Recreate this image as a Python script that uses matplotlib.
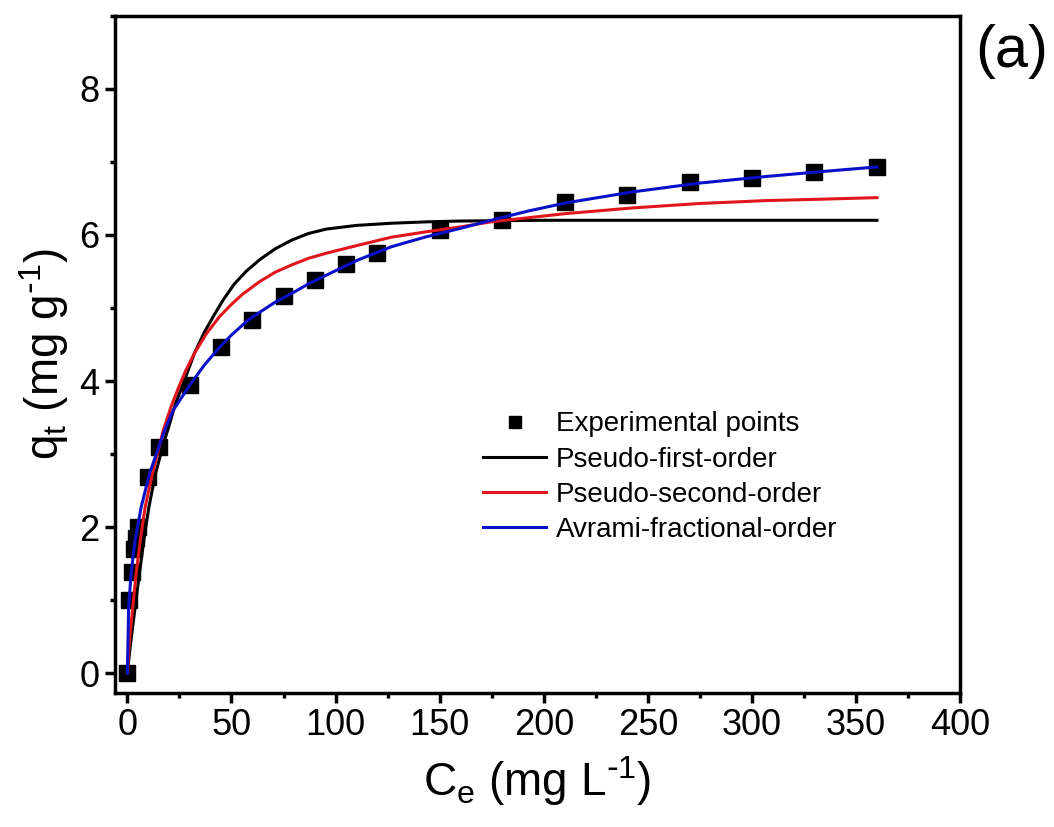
import numpy as np
import matplotlib
matplotlib.use("Agg")
import matplotlib.pyplot as plt
from matplotlib.ticker import MultipleLocator

plt.rcParams['font.family'] = ['Liberation Sans', 'DejaVu Sans']
plt.rcParams['mathtext.default'] = 'regular'

# experimental points
t_exp = [0, 1, 2, 3, 4, 5, 10, 15, 30, 45, 60, 75, 90, 105, 120, 150, 180,
         210, 240, 270, 300, 330, 360]
q_exp = [0, 1.0, 1.38, 1.70, 1.85, 2.0, 2.68, 3.1, 3.95, 4.47, 4.83, 5.16,
         5.38, 5.6, 5.75, 6.07, 6.2, 6.45, 6.55, 6.73, 6.78, 6.86, 6.93]

# model curves
t_pfo = [0, 1.5, 3.7, 5.8, 7.9, 10.3, 13.5, 17.8, 19.4, 23, 27.4, 32.2, 37,
         41.8, 46, 51.4, 57, 63.5, 71, 79, 87, 95.6, 110, 127, 145, 160,
         200, 250, 300, 360]
q_pfo = [0, 0.4, 0.9, 1.37, 1.82, 2.27, 2.73, 3.19, 3.33, 3.68, 4.01, 4.38,
         4.67, 4.91, 5.11, 5.33, 5.50, 5.66, 5.81, 5.93, 6.02, 6.08, 6.13,
         6.16, 6.18, 6.19, 6.2, 6.2, 6.2, 6.2]

t_pso = [0, 1, 2.6, 4.2, 6.2, 8.5, 12, 17.3, 21, 24.7, 28, 32.2, 38, 44.2,
         50, 55.4, 63.5, 71, 79, 87, 95.6, 111, 127, 143, 160, 175, 210, 243,
         275, 307, 335, 360]
q_pso = [0, 0.45, 0.9, 1.37, 1.82, 2.27, 2.73, 3.33, 3.65, 3.92, 4.14, 4.38,
         4.65, 4.88, 5.05, 5.19, 5.36, 5.49, 5.59, 5.68, 5.75, 5.86, 5.97,
         6.04, 6.11, 6.18, 6.29, 6.37, 6.43, 6.47, 6.49, 6.51]

t_afo = [0, 0.6, 1.8, 3.7, 6.6, 10.6, 16.2, 17.8, 22, 30.1, 37, 44.2, 50,
         57.8, 63.5, 71, 79, 87, 95.6, 111, 127, 143, 160, 176, 193, 211,
         243, 275, 307, 339, 360]
q_afo = [0, 0.9, 1.37, 1.82, 2.27, 2.73, 3.19, 3.32, 3.6, 3.95, 4.22, 4.46,
         4.63, 4.83, 4.94, 5.08, 5.2, 5.33, 5.45, 5.66, 5.84, 5.97, 6.09,
         6.21, 6.33, 6.44, 6.59, 6.71, 6.8, 6.88, 6.93]

fig = plt.figure(figsize=(10.54, 8.27), dpi=100)
ax = fig.add_axes([0.109, 0.162, 0.802, 0.819])

ax.plot(t_exp, q_exp, 's', color='black', markersize=11.5, zorder=2,
        label='Experimental points')
ax.plot(t_pfo, q_pfo, '-', color='black', lw=2.2, zorder=3,
        label='Pseudo-first-order')
ax.plot(t_pso, q_pso, '-', color='#e0161c', lw=2.2, zorder=3,
        label='Pseudo-second-order')
ax.plot(t_afo, q_afo, '-', color='#0a10c8', lw=2.2, zorder=4,
        label='Avrami-fractional-order')

ax.set_xlim(-6, 400)
ax.set_ylim(-0.27, 9.0)
ax.xaxis.set_major_locator(MultipleLocator(50))
ax.xaxis.set_minor_locator(MultipleLocator(25))
ax.yaxis.set_major_locator(MultipleLocator(2))
ax.yaxis.set_minor_locator(MultipleLocator(1))

for s in ax.spines.values():
    s.set_linewidth(2.5)
ax.tick_params(which='both', direction='out', width=2.5, top=False, right=False)
ax.tick_params(which='major', length=7, labelsize=26, pad=4)
ax.tick_params(which='minor', length=3.6)

ax.set_xlabel('C$_e$ (mg L$^{\\text{-}1}$)', fontsize=33, labelpad=8)
ax.set_ylabel('q$_t$ (mg g$^{\\text{-}1}$)', fontsize=33, labelpad=6)

leg = ax.legend(loc='center left', bbox_to_anchor=(0.4355, 0.3186), frameon=False,
                fontsize=20, handlelength=2.27, handletextpad=0.36,
                labelspacing=0.33, borderpad=0, borderaxespad=0,
                markerscale=0.8)

fig.text(0.925, 0.938, '(a)', fontsize=43, va='center', ha='left')

fig.savefig('out.png', dpi=100)
